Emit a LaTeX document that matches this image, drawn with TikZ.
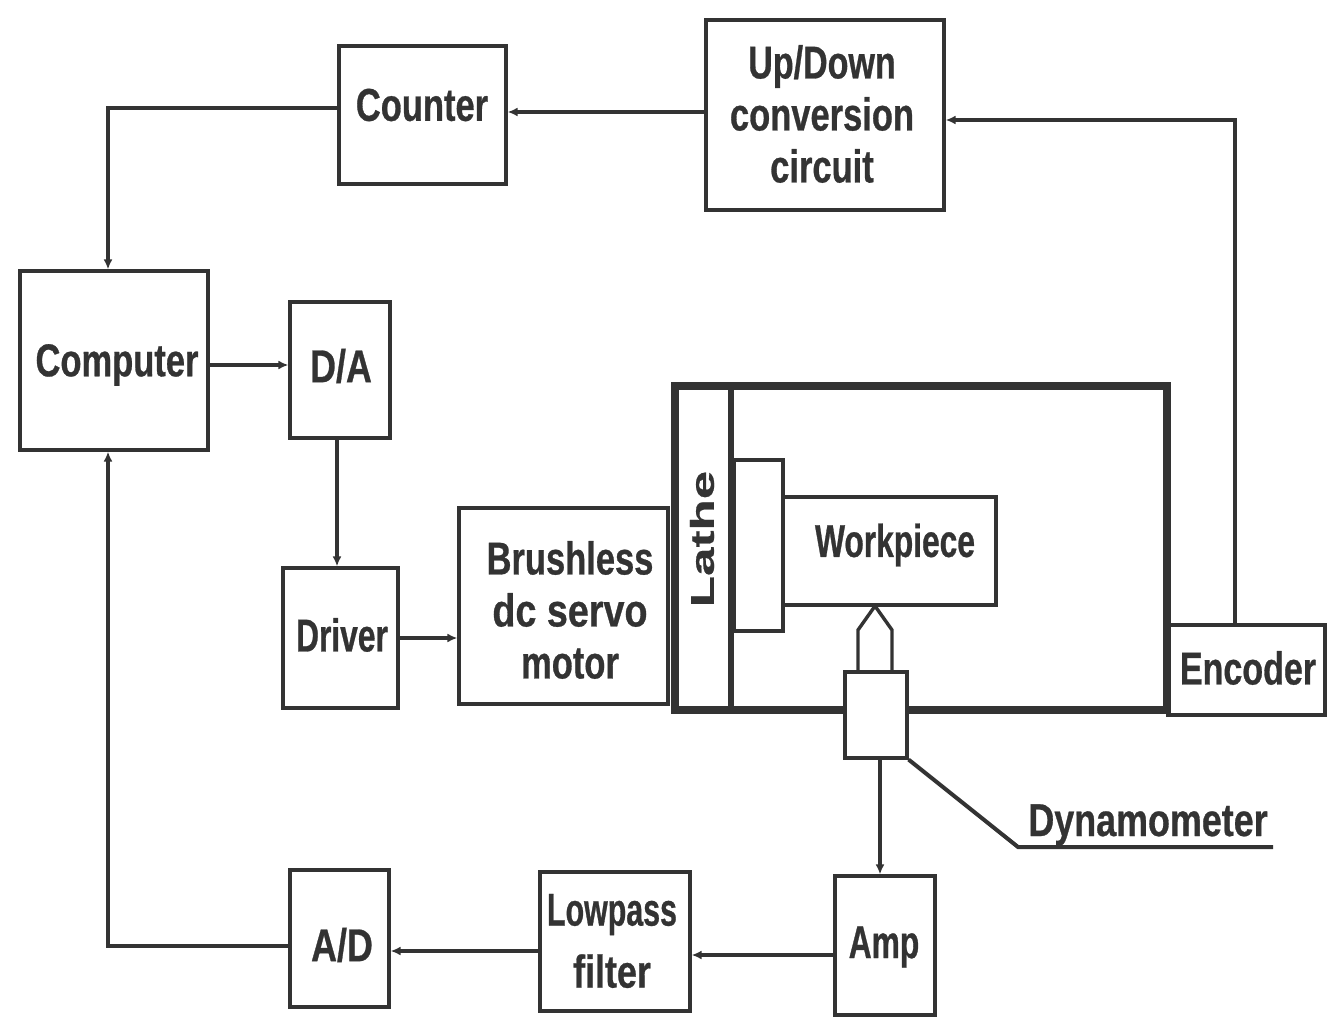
\documentclass[tikz,border=0pt]{standalone}
\usepackage{fontspec}
\setmainfont{Liberation Sans}
\newfontfamily\fMid[FakeStretch=0.75,FakeBold=0.6]{Liberation Sans Bold}
\newfontfamily\fTight[FakeStretch=0.69,FakeBold=0.6]{Liberation Sans Bold}
\newfontfamily\fLow[FakeStretch=0.66,FakeBold=0.6]{Liberation Sans Bold}
\newfontfamily\fWide[FakeStretch=0.78,FakeBold=0.6]{Liberation Sans Bold}
\newfontfamily\fUp[FakeStretch=0.74,FakeBold=0.6]{Liberation Sans Bold}
\newfontfamily\fServo[FakeStretch=0.82,FakeBold=0.6]{Liberation Sans Bold}
\newfontfamily\fLathe[FakeStretch=1.55,FakeBold=0.6]{Liberation Sans Bold}
\usetikzlibrary{arrows.meta}
\definecolor{ink}{gray}{0.2}
\tikzset{
  x=0.5pt,y=-0.5pt,
  blk/.style={draw=ink,line width=1.6pt,inner sep=0pt},
  conn/.style={draw=ink,line width=1.6pt,-{Latex[length=5pt,width=4.5pt]}},
  plain/.style={draw=ink,line width=1.7pt},
  heavy/.style={draw=ink,line width=4.4pt},
  lbl/.style={text=ink,inner sep=0pt,align=center,font=\fontsize{23}{26}\selectfont}
}
% name, left, top, right, bottom
\newcommand{\boxfrom}[5]{\path ({(#2+#4)/2},{(#3+#5)/2}) node[blk,minimum width={(#4-#2)*0.5pt},minimum height={(#5-#3)*0.5pt}] (#1) {};}
\begin{document}
\begin{tikzpicture}
\useasboundingbox (0,0) rectangle (1327,1026);
\boxfrom{comp}{20}{271}{208}{450}
\boxfrom{counter}{339}{46}{506}{184}
\boxfrom{updown}{706}{20}{944}{210}
\boxfrom{da}{290}{302}{390}{438}
\boxfrom{driver}{283}{568}{398}{708}
\boxfrom{motor}{459}{508}{668}{704}
\boxfrom{encoder}{1168}{625}{1325}{715}
\boxfrom{ad}{290}{870}{389}{1007}
\boxfrom{filter}{540}{872}{690}{1011}
\boxfrom{amp}{835}{876}{935}{1015}
% lathe
\coordinate (lathetl) at (675,386);
\coordinate (lathebr) at (1167,710);
\draw[heavy] (lathetl) rectangle (lathebr);
\draw[draw=ink,line width=3pt] (731,386) -- (731,710);
% chuck and workpiece
\boxfrom{chuck}{734}{460}{783}{631}
\boxfrom{work}{783}{497}{996}{605}
% tool
\coordinate (tip) at (875,606);
\draw[plain] (858,672) -- (858,630) -- (tip) -- (892,630) -- (892,672);
\path (876,715) node[blk,fill=white,minimum width=31pt,minimum height=43pt] (dyn) {};
% labels
\node[lbl] (tcomp) at (117,365) {\fMid Computer};
\node[lbl] (tcount) at (422,105) {\fMid Counter};
\node[lbl] (tup) at (822,114) {\fUp Up/Down\\\fMid conversion\\\fMid circuit};
\node[lbl] (tda) at (341,366) {\fWide D/A};
\node[lbl] (tdrv) at (342,635) {\fTight Driver};
\node[lbl] (tmot) at (570,610) {\fMid Brushless\\\fServo dc servo\\\fMid motor};
\node[lbl] (tenc) at (1248,668) {\fUp Encoder};
\node[lbl] (tad) at (342,945) {\fWide A/D};
\node[lbl] (tfil) at (612,941) {\fLow Lowpass\\[5pt]\fWide filter};
\node[lbl] (tamp) at (884,947) {\fTight Amp};
\node[lbl] (twork) at (895,545) {\fTight Workpiece};
\node[lbl,rotate=90,font=\fontsize{16.5}{20}\selectfont] (tlathe) at (702,539) {\fLathe Lathe};
\node[lbl,anchor=base west] (tdyn) at (1028,836) {\fWide Dynamometer};
% dynamometer leader
\coordinate (dynl) at (1018,847);
\coordinate (dynr) at (1273,847);
\draw[draw=ink,line width=2pt] (dyn.south east) -- (dynl) -- (dynr);
% connectors
\coordinate (c1) at (108,108);
\coordinate (c2) at (1235,120);
\coordinate (c3) at (108,946);
\draw[conn] (counter.west |- c1) -- (c1) -- (c1 |- comp.north);
\draw[conn] (updown.west |- 0,112) -- (counter.east |- 0,112);
\draw[conn] (c2 |- encoder.north) -- (c2) -- (updown.east |- c2);
\draw[conn] (comp.east |- 0,365) -- (da.west |- 0,365);
\draw[conn] (da.south -| 337,0) -- (driver.north -| 337,0);
\draw[conn] (driver.east) -- (motor.west |- driver);
\draw[conn] (dyn.south -| 880,0) -- (amp.north -| 880,0);
\draw[conn] (amp.west |- 0,955) -- (filter.east |- 0,955);
\draw[conn] (filter.west |- 0,951) -- (ad.east |- 0,951);
\draw[conn] (ad.west |- c3) -- (c3) -- (c3 |- comp.south);
\end{tikzpicture}
\end{document}
